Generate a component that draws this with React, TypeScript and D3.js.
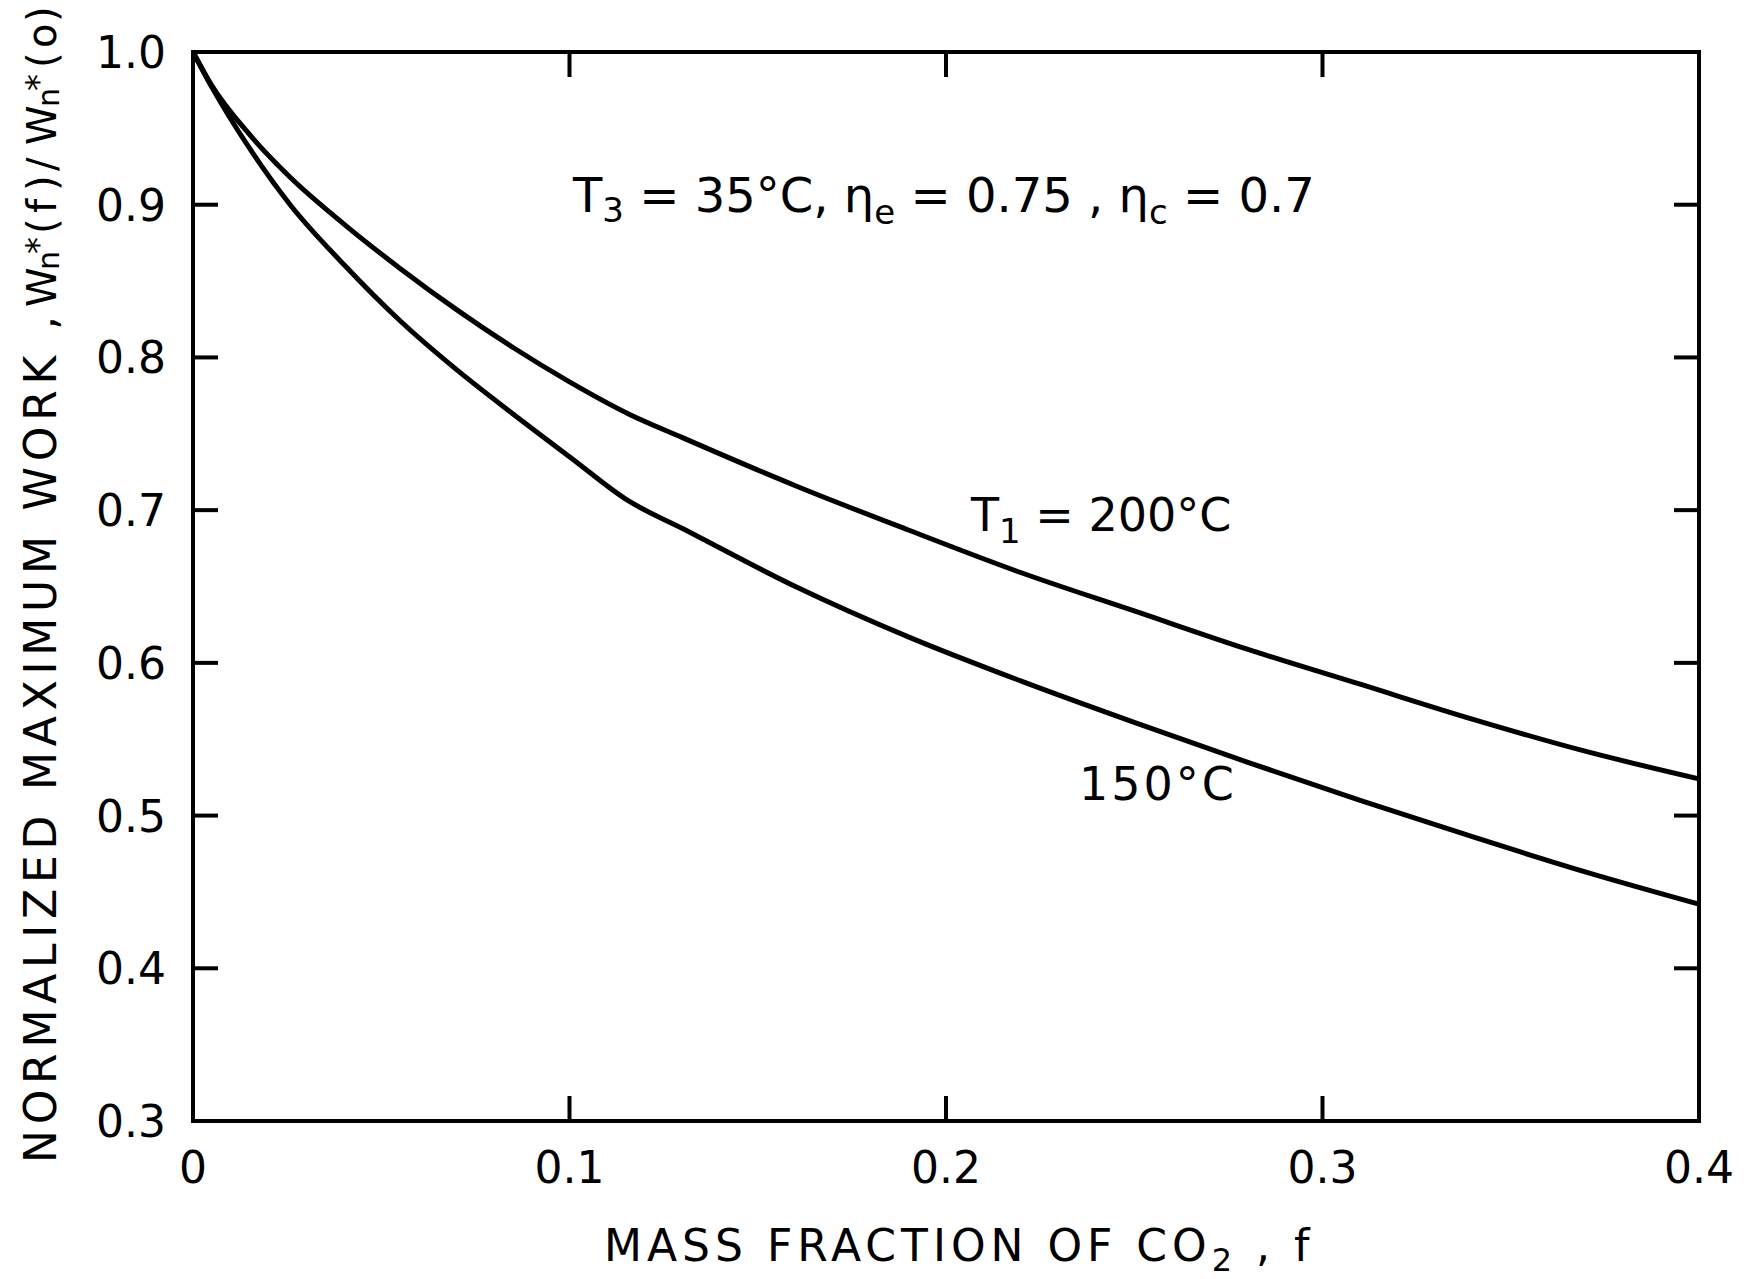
import React from "react";
import * as d3 from "d3";

const xTicks = [0, 0.1, 0.2, 0.3, 0.4];
const xTickLabels = ["0", "0.1", "0.2", "0.3", "0.4"];
const yTicks = [0.3, 0.4, 0.5, 0.6, 0.7, 0.8, 0.9, 1.0];
const yTickLabels = ["0.3", "0.4", "0.5", "0.6", "0.7", "0.8", "0.9", "1.0"];

const fUpper = [0, 0.005, 0.015, 0.0258, 0.04, 0.055, 0.07, 0.085, 0.1, 0.1157, 0.13, 0.16, 0.19, 0.22, 0.25, 0.28, 0.31, 0.34, 0.37, 0.4];
const wUpper200 = [1.0, 0.978, 0.946, 0.918, 0.8875, 0.8583, 0.8313, 0.8065, 0.784, 0.763, 0.7475, 0.716, 0.687, 0.659, 0.634, 0.609, 0.586, 0.563, 0.542, 0.524];

const fLower = [0, 0.005, 0.015, 0.0258, 0.04, 0.055, 0.07, 0.085, 0.1, 0.1157, 0.13, 0.16, 0.19, 0.22, 0.25, 0.28, 0.31, 0.34, 0.37, 0.4];
const wLower150 = [1.0, 0.977, 0.937, 0.9, 0.861, 0.824, 0.792, 0.763, 0.735, 0.706, 0.688, 0.65, 0.617, 0.588, 0.561, 0.535, 0.51, 0.486, 0.463, 0.442];

const W = 1754;
const H = 1279;
const L = 193, R = 1699, T = 52, B = 1121;
const FONT = "'DejaVu Sans', 'Liberation Sans', sans-serif";

export default function App() {
  const x = d3.scaleLinear().domain([0, 0.4]).range([L, R]);
  const y = d3.scaleLinear().domain([0.3, 1.0]).range([B, T]);
  const line = d3
    .line<[number, number]>()
    .x((d) => x(d[0]))
    .y((d) => y(d[1]))
    .curve(d3.curveMonotoneX);
  const upper = fUpper.map((f, i) => [f, wUpper200[i]] as [number, number]);
  const lower = fLower.map((f, i) => [f, wLower150[i]] as [number, number]);
  const tickLen = 25;
  const sw = 4;
  const fs = 44;

  return (
    <svg
      width={W}
      height={H}
      viewBox={`0 0 ${W} ${H}`}
      style={{ position: "absolute", left: 0, top: 0, background: "#fff" }}
      fontFamily={FONT}
    >
      <rect x={0} y={0} width={W} height={H} fill="#fff" />
      <rect x={L} y={T} width={R - L} height={B - T} fill="none" stroke="#000" strokeWidth={sw} />
      {xTicks.slice(1, -1).map((t) => (
        <g key={"xt" + t}>
          <line x1={x(t)} x2={x(t)} y1={B} y2={B - tickLen} stroke="#000" strokeWidth={sw} />
          <line x1={x(t)} x2={x(t)} y1={T} y2={T + tickLen} stroke="#000" strokeWidth={sw} />
        </g>
      ))}
      {yTicks.slice(1, -1).map((t) => (
        <g key={"yt" + t}>
          <line x1={L} x2={L + tickLen} y1={y(t)} y2={y(t)} stroke="#000" strokeWidth={sw} />
          <line x1={R} x2={R - tickLen} y1={y(t)} y2={y(t)} stroke="#000" strokeWidth={sw} />
        </g>
      ))}
      {xTicks.map((t, i) => (
        <text key={"xl" + t} x={x(t)} y={1183} fontSize={fs} textAnchor="middle" fill="#000">
          {xTickLabels[i]}
        </text>
      ))}
      {yTicks.map((t, i) => (
        <text key={"yl" + t} x={166} y={y(t) + 16} fontSize={fs} textAnchor="end" fill="#000">
          {yTickLabels[i]}
        </text>
      ))}
      <path d={line(upper) || ""} fill="none" stroke="#000" strokeWidth={5} strokeLinejoin="round" />
      <path d={line(lower) || ""} fill="none" stroke="#000" strokeWidth={5} strokeLinejoin="round" />

      <text x={573} y={212} fontSize={48} fill="#000">
        <tspan>T</tspan>
        <tspan fontSize={34} dy={10}>3</tspan>
        <tspan dy={-10}> = 35°C,  η</tspan>
        <tspan fontSize={34} dy={12}>e</tspan>
        <tspan dy={-12}> = 0.75 ,  η</tspan>
        <tspan fontSize={34} dy={12}>c</tspan>
        <tspan dy={-12}> = 0.7</tspan>
      </text>
      <text x={971} y={531} fontSize={46} fill="#000">
        <tspan>T</tspan>
        <tspan fontSize={34} dy={12}>1</tspan>
        <tspan dy={-12}> = 200°C</tspan>
      </text>
      <text x={1079} y={800} fontSize={46} fill="#000" letterSpacing={3}>
        150°C
      </text>

      <text x={604} y={1261} fontSize={44} fill="#000" letterSpacing={5}>
        <tspan>MASS FRACTION OF CO</tspan>
        <tspan fontSize={32} dy={10}>2</tspan>
        <tspan dy={-10}> , f</tspan>
      </text>

      <g transform={`translate(56, 1163) rotate(-90)`}>
        <text x={0} y={0} fontSize={44} fill="#000" textLength={847} lengthAdjust="spacing">
          NORMALIZED MAXIMUM WORK ,
        </text>
        <text y={0} fontSize={40} fill="#000">
          <tspan x={856}>W</tspan>
          <tspan x={893} y={3} fontSize={30}>n</tspan>
          <tspan x={909} y={-6} fontSize={34}>*</tspan>
          <tspan x={929} y={0}>(</tspan>
          <tspan x={950}>f</tspan>
          <tspan x={972}>)</tspan>
          <tspan x={992}>/</tspan>
          <tspan x={1018}>W</tspan>
          <tspan x={1056} y={3} fontSize={30}>n</tspan>
          <tspan x={1072} y={-6} fontSize={34}>*</tspan>
          <tspan x={1095} y={0}>(</tspan>
          <tspan x={1115}>o</tspan>
          <tspan x={1141}>)</tspan>
        </text>
      </g>
    </svg>
  );
}
